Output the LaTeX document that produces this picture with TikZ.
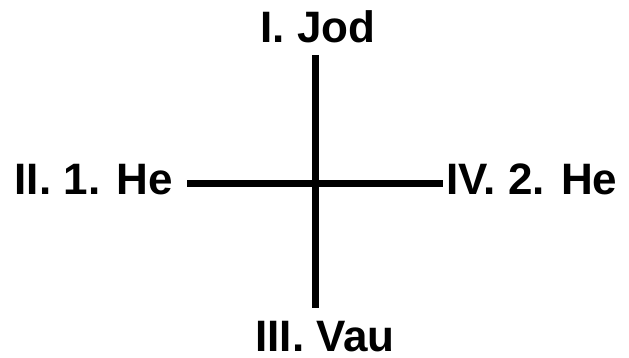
\documentclass[tikz,border=0pt]{standalone}
\usepackage{fontspec}
\setmainfont{Liberation Sans}
\usetikzlibrary{positioning}

\begin{document}
\begin{tikzpicture}[
    x=1pt, y=1pt,
    bar/.style={line width=7pt, black},
    letter/.style={font=\fontsize{44}{48}\selectfont\bfseries, inner sep=0pt}
  ]
  \useasboundingbox (0,0) rectangle (629,357);

  % the cross
  \coordinate (top) at (315,302);
  \coordinate (bottom) at (315,49);
  \coordinate (left) at (187,174);
  \coordinate (right) at (443,174);
  \draw[bar] (top) -- (bottom);
  \draw[bar] (left) -- (right);

  % the four letters
  \node[letter, anchor=base] (jod) at (318,314) {I. Jod};
  \node[letter, anchor=base east] (he1) at (173,163) {II. 1. He};
  \node[letter, anchor=base] (vau) at (325,6) {III. Vau};
  \node[letter, anchor=base west] (he2) at (446,163) {IV. 2. He};
\end{tikzpicture}
\end{document}
